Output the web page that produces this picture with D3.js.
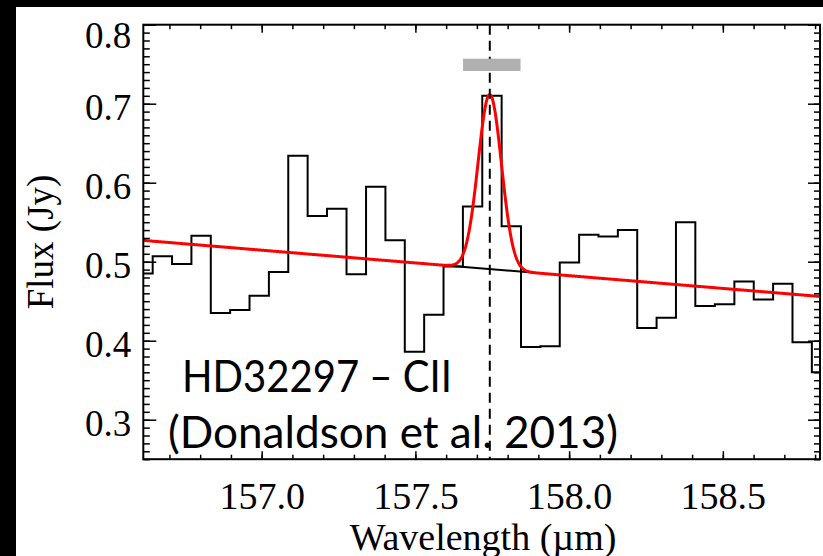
<!DOCTYPE html>
<html>
<head>
<meta charset="utf-8">
<script src="https://cdn.jsdelivr.net/npm/d3@7"></script>
<style>
  html, body { margin: 0; padding: 0; background: #000; }
  svg { display: block; }
</style>
</head>
<body>
<svg id="chart" width="823" height="556"></svg>
<script>
// bin centres (micron) and flux (Jy)
const wavelength = [
  156.614, 156.677, 156.740, 156.803, 156.866, 156.929, 156.992, 157.055,
  157.118, 157.181, 157.244, 157.308, 157.371, 157.434, 157.497, 157.560,
  157.623, 157.686, 157.749, 157.812, 157.875, 157.938, 158.001, 158.064,
  158.127, 158.190, 158.253, 158.316, 158.379, 158.442, 158.506, 158.569,
  158.632, 158.695, 158.758, 158.821
];
const flux = [
  0.485, 0.507, 0.497, 0.533, 0.435, 0.439, 0.457, 0.487,
  0.634, 0.558, 0.567, 0.484, 0.595, 0.527, 0.386, 0.433,
  0.494, 0.570, 0.710, 0.545, 0.392, 0.393, 0.499, 0.534,
  0.532, 0.540, 0.416, 0.429, 0.550, 0.444, 0.446, 0.475,
  0.452, 0.472, 0.398, 0.360
];

const xMajor = [157.0, 157.5, 158.0, 158.5];
const yMajor = [0.3, 0.4, 0.5, 0.6, 0.7, 0.8];

// fitted model: linear continuum (two end points) + gaussian
const contEnds = [[156.615, 0.527], [158.816, 0.456]];
const lineFit = [157.742, 0.221, 0.038];   // centre, amplitude, sigma
const lineWindow = [157.60, 157.88];       // black continuum under the line
const grayBar = [157.655, 157.842, 0.7414, 0.757];
const labelLines = ["HD32297 \u2013 CII", "(Donaldson et al. 2013)"];

const svg = d3.select("#chart");

const pL = 143.3, pR = 820, pT = 24.7, pB = 459.2;

const x = d3.scaleLinear().domain([156.615, 158.816]).range([pL, pR]);
const y = d3.scaleLinear().domain([0.25, 0.8]).range([pB, pT]);

// white page with black strips left / top
svg.append("rect")
  .attr("x", 16).attr("y", 7)
  .attr("width", 823 - 16).attr("height", 556 - 7)
  .attr("fill", "#fff");

svg.append("clipPath").attr("id", "plotClip")
  .append("rect")
  .attr("x", pL).attr("y", pT)
  .attr("width", pR - pL).attr("height", pB - pT);

const plot = svg.append("g").attr("clip-path", "url(#plotClip)");

function continuum(l) {
  const [[l0, c0], [l1, c1]] = contEnds;
  return c0 + (l - l0) * (c1 - c0) / (l1 - l0);
}
function model(l) {
  const [mu, amp, sig] = lineFit;
  return continuum(l) + amp * Math.exp(-0.5 * Math.pow((l - mu) / sig, 2));
}

const spec = wavelength.map((w, i) => [w, flux[i]]);

plot.append("path")
  .datum(spec)
  .attr("fill", "none")
  .attr("stroke", "#000")
  .attr("stroke-width", 2)
  .attr("d", d3.line().x(d => x(d[0])).y(d => y(d[1])).curve(d3.curveStep));

plot.append("line")
  .attr("x1", x(lineWindow[0])).attr("y1", y(continuum(lineWindow[0])))
  .attr("x2", x(lineWindow[1])).attr("y2", y(continuum(lineWindow[1])))
  .attr("stroke", "#000").attr("stroke-width", 2);

const samples = d3.range(x.domain()[0], x.domain()[1] + 0.002, 0.002);
plot.append("path")
  .datum(samples)
  .attr("fill", "none")
  .attr("stroke", "#ff0000")
  .attr("stroke-width", 3)
  .attr("d", d3.line().x(d => x(d)).y(d => y(model(d))));

plot.append("line")
  .attr("x1", x(lineFit[0])).attr("x2", x(lineFit[0]))
  .attr("y1", pT).attr("y2", pB)
  .attr("stroke", "#000").attr("stroke-width", 2)
  .attr("stroke-dasharray", "10,6");

plot.append("rect")
  .attr("x", x(grayBar[0]))
  .attr("y", y(grayBar[3]))
  .attr("width", x(grayBar[1]) - x(grayBar[0]))
  .attr("height", y(grayBar[2]) - y(grayBar[3]))
  .attr("fill", "#b0b0b0");

// annotation
const ann = svg.append("g")
  .style("font-family", "Lato, 'Open Sans', sans-serif")
  .style("font-size", "44px")
  .attr("fill", "#000");
ann.append("text").attr("x", 182).attr("y", 391.5)
  .attr("textLength", 270).attr("lengthAdjust", "spacingAndGlyphs")
  .text(labelLines[0]);
ann.append("text").attr("x", 168).attr("y", 448)
  .attr("textLength", 450).attr("lengthAdjust", "spacingAndGlyphs")
  .text(labelLines[1]);

// axes, ticks all pointing inward
const serif = "'Liberation Serif', 'Times New Roman', serif";

function styleAxis(g) {
  g.select(".domain").remove();
  g.selectAll("line").attr("stroke", "#000").attr("stroke-width", 1.5);
  g.selectAll("text").style("font-family", serif).attr("fill", "#000");
}

svg.append("g").attr("transform", `translate(0,${pB})`)
  .call(d3.axisBottom(x).tickValues(x.ticks(22)).tickSize(-4.5).tickFormat(""))
  .call(styleAxis);
svg.append("g").attr("transform", `translate(0,${pB})`)
  .call(d3.axisBottom(x).tickValues(xMajor).tickSize(-8).tickPadding(23).tickFormat(d3.format(".1f")))
  .call(styleAxis)
  .selectAll("text").style("font-size", "38px");

svg.append("g").attr("transform", `translate(0,${pT})`)
  .call(d3.axisTop(x).tickValues(x.ticks(22)).tickSize(-4.5).tickFormat(""))
  .call(styleAxis);
svg.append("g").attr("transform", `translate(0,${pT})`)
  .call(d3.axisTop(x).tickValues(xMajor).tickSize(-8).tickFormat(""))
  .call(styleAxis);

svg.append("g").attr("transform", `translate(${pL},0)`)
  .call(d3.axisLeft(y).tickValues(y.ticks(55)).tickSize(-6.5).tickFormat(""))
  .call(styleAxis);
const yAx = svg.append("g").attr("transform", `translate(${pL},0)`)
  .call(d3.axisLeft(y).tickValues(yMajor).tickSize(-13).tickPadding(12).tickFormat(d3.format(".1f")))
  .call(styleAxis);
yAx.selectAll("text")
  .style("font-size", "37px")
  .attr("dy", d => d === 0.8 ? "0.62em" : "0.42em");

svg.append("g").attr("transform", `translate(${pR},0)`)
  .call(d3.axisRight(y).tickValues(y.ticks(55)).tickSize(-6).tickFormat(""))
  .call(styleAxis);
svg.append("g").attr("transform", `translate(${pR},0)`)
  .call(d3.axisRight(y).tickValues(yMajor).tickSize(-12).tickFormat(""))
  .call(styleAxis);

// frame
svg.append("rect")
  .attr("x", pL).attr("y", pT)
  .attr("width", pR - pL).attr("height", pB - pT)
  .attr("fill", "none").attr("stroke", "#000").attr("stroke-width", 2);

// axis titles
svg.append("text")
  .attr("x", x(157.72)).attr("y", 550)
  .attr("text-anchor", "middle")
  .style("font-family", serif).style("font-size", "38px")
  .text("Wavelength (\u00b5m)");

svg.append("text")
  .attr("transform", `translate(53,${(pT + pB) / 2}) rotate(-90)`)
  .attr("text-anchor", "middle")
  .style("font-family", serif).style("font-size", "37px")
  .text("Flux (Jy)");
</script>
</body>
</html>
